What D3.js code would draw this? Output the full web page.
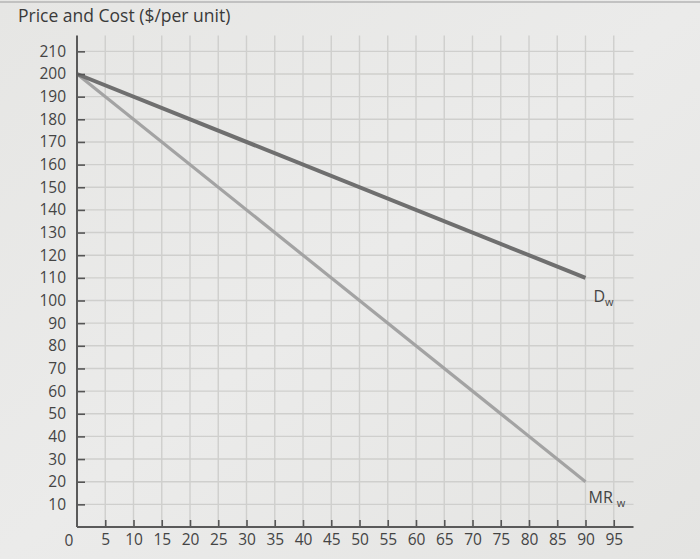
<!DOCTYPE html>
<html><head><meta charset="utf-8">
<script src="https://cdn.jsdelivr.net/npm/d3@7"></script>
<style>
html,body{margin:0;padding:0;background:#e8e8e6;}
svg{display:block;}
</style></head>
<body>
<script>
// Data
const yTicks = [10,20,30,40,50,60,70,80,90,100,110,120,130,140,150,160,170,180,190,200,210];
const xTicks = [5,10,15,20,25,30,35,40,45,50,55,60,65,70,75,80,85,90,95];
const demandQ = [0, 90];
const demandP = [200, 110];
const mrQ = [0, 90];
const mrP = [200, 20];
const title = "Price and Cost ($/per unit)";

const W = 700, H = 559;
const svg = d3.select("body").append("svg").attr("width", W).attr("height", H);

const defs = svg.append("defs");
const grad = defs.append("linearGradient").attr("id","bg").attr("x1","0").attr("y1","0").attr("x2","1").attr("y2","1");
grad.append("stop").attr("offset","0").attr("stop-color","#e6e6e4");
grad.append("stop").attr("offset","0.5").attr("stop-color","#ebebea");
grad.append("stop").attr("offset","1").attr("stop-color","#e4e4e2");
svg.append("rect").attr("width",W).attr("height",H).attr("fill","url(#bg)");
svg.append("line").attr("x1",0).attr("x2",W).attr("y1",2).attr("y2",2).attr("stroke","#b5b5b5").attr("stroke-width",1.5);

const x0 = 77, y0 = 527;
const x = d3.scaleLinear().domain([0, 98.5]).range([x0, x0 + 98.5*5.65]);
const y = d3.scaleLinear().domain([0, 217]).range([y0, y0 - 217*2.265]);

const font = "'Open Sans', 'Noto Sans', sans-serif";
const txt = "#444";

// grid
const g = svg.append("g");
g.selectAll("line.h").data(yTicks).join("line")
  .attr("x1", x(0)).attr("x2", x(98.5))
  .attr("y1", d=>y(d)).attr("y2", d=>y(d))
  .attr("stroke","#cfcfcd").attr("stroke-width",1.4);
g.selectAll("line.v").data(xTicks).join("line")
  .attr("x1", d=>x(d)).attr("x2", d=>x(d))
  .attr("y1", y(0)).attr("y2", y(217))
  .attr("stroke","#cfcfcd").attr("stroke-width",1.4);

// lines
const line = d3.line().x(d=>x(d[0])).y(d=>y(d[1]));
svg.append("path").datum(mrQ.map((q,i)=>[q, mrP[i]]))
  .attr("d", line).attr("fill","none").attr("stroke","#a3a3a3").attr("stroke-width",3.2);
svg.append("path").datum(demandQ.map((q,i)=>[q, demandP[i]]))
  .attr("d", line).attr("fill","none").attr("stroke","#6f6f6f").attr("stroke-width",4);

// axes
const yAxis = d3.axisLeft(y).tickValues(yTicks).tickSizeInner(-8).tickSizeOuter(0).tickPadding(11);
const ya = svg.append("g").attr("transform",`translate(${x0},0)`).call(yAxis);
ya.select(".domain").remove();
ya.selectAll(".tick line").attr("stroke","#555").attr("stroke-width",1.6);
ya.selectAll("text").attr("fill",txt).style("font-family",font).style("font-size","15.5px");
svg.append("line").attr("x1",x0).attr("x2",x0).attr("y1",y0).attr("y2",y(217))
  .attr("stroke","#5a5a5a").attr("stroke-width",2);

const xAxis = d3.axisBottom(x).tickValues(xTicks).tickSizeInner(-7).tickSizeOuter(0).tickPadding(7);
const xa = svg.append("g").attr("transform",`translate(0,${y0})`).call(xAxis);
xa.select(".domain").remove();
xa.selectAll(".tick line").attr("stroke","#555").attr("stroke-width",1.6);
xa.selectAll("text").attr("fill",txt).style("font-family",font).style("font-size","15.5px");
svg.append("line").attr("x1",x0).attr("x2",x(98.5)).attr("y1",y0).attr("y2",y0)
  .attr("stroke","#5a5a5a").attr("stroke-width",2);

svg.append("text").attr("x", x0-8).attr("y", y0+19).attr("text-anchor","middle")
  .attr("fill",txt).style("font-family",font).style("font-size","15.5px").text("0");

// title
svg.append("text").attr("x",18).attr("y",22).attr("fill","#3a3a3a")
  .style("font-family",font).style("font-size","17.5px").text(title);

// line labels
const dl = svg.append("text").attr("x", x(90)+8).attr("y", y(110)+24)
  .attr("fill",txt).style("font-family",font).style("font-size","16px");
dl.append("tspan").text("D");
dl.append("tspan").attr("dy",4).style("font-size","11px").text("w");

const ml = svg.append("text").attr("x", x(90)+3).attr("y", y(20)+21)
  .attr("fill",txt).style("font-family",font).style("font-size","16px");
ml.append("tspan").text("MR");
ml.append("tspan").attr("dx",4).attr("dy",4).style("font-size","11px").text("w");
</script>
</body></html>
